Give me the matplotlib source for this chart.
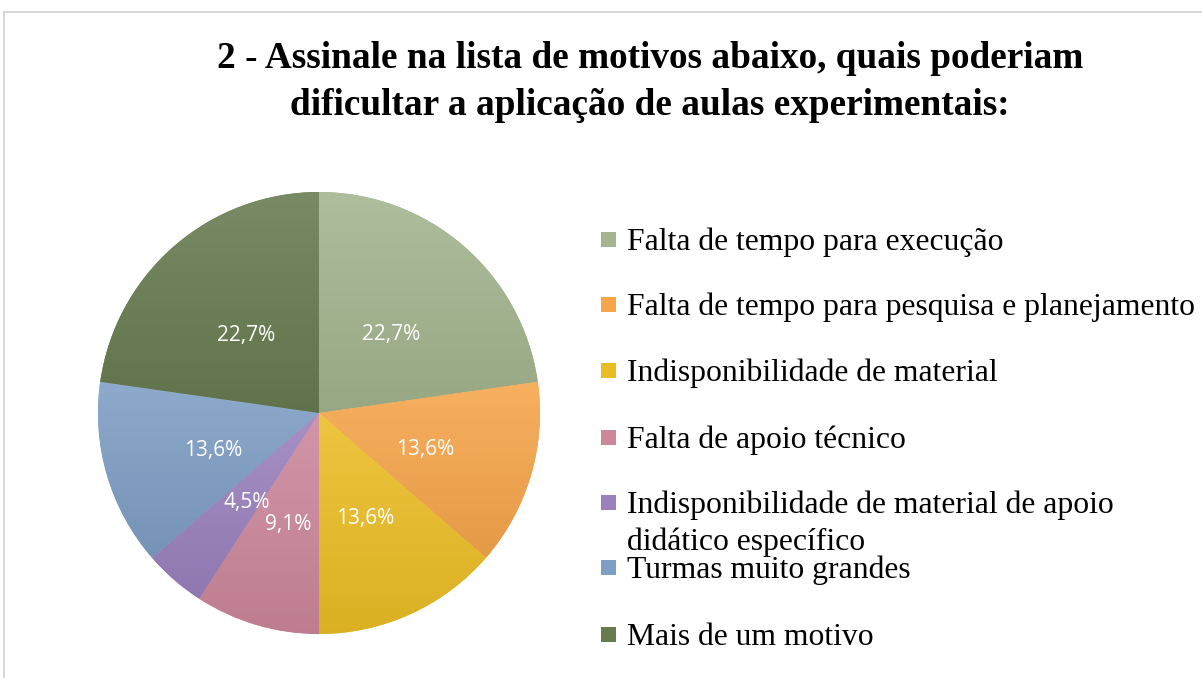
import numpy as np
import matplotlib
matplotlib.use("Agg")
import matplotlib.pyplot as plt
import matplotlib.colors as mcolors
from matplotlib.patches import Rectangle
from matplotlib.lines import Line2D

# dados
motivos = [
    "Falta de tempo para execução",
    "Falta de tempo para pesquisa e planejamento",
    "Indisponibilidade de material",
    "Falta de apoio técnico",
    "Indisponibilidade de material de apoio\ndidático específico",
    "Turmas muito grandes",
    "Mais de um motivo",
]
percentuais = [22.7, 13.6, 13.6, 9.1, 4.5, 13.6, 22.7]
rotulos = ["22,7%", "13,6%", "13,6%", "9,1%", "4,5%", "13,6%", "22,7%"]
cores = ["#a3b48e", "#f6a54b", "#ebbd25", "#cc879b", "#9a81bd", "#7e9ec5", "#677b4f"]

titulo = ["2 - Assinale na lista de motivos abaixo, quais poderiam",
          "dificultar a aplicação de aulas experimentais:"]

W, H = 1202, 678


def fx(px):
    return px / W


def fy(py):
    return 1 - py / H


def main():
    fig = plt.figure(figsize=(W / 100, H / 100), dpi=100)
    fig.patch.set_facecolor("white")

    # moldura cinza
    fig.add_artist(Line2D([fx(4), 1.0], [fy(12), fy(12)], color="#d9d9d9", lw=1.5))
    fig.add_artist(Line2D([fx(4), fx(4)], [fy(12), 0.0], color="#d9d9d9", lw=1.5))

    for linha, yb in zip(titulo, [68, 115]):
        fig.text(fx(650), fy(yb), linha, ha="center", va="baseline", fontsize=26.8,
                 fontweight="bold", family="Liberation Serif")

    cx, cy, r = 319, 413, 221
    ax = fig.add_axes([fx(cx - r), fy(cy + r), 2 * r / W, 2 * r / H])
    wedges, _ = ax.pie(percentuais, colors=cores, startangle=90, counterclock=False,
                       radius=1, wedgeprops=dict(linewidth=0))

    # leve degrade vertical em cada fatia
    for w, c in zip(wedges, cores):
        base = np.array(mcolors.to_rgb(c))
        topo = base + (1 - base) * 0.12
        fundo = base * 0.93
        t = np.linspace(0, 1, 100)[:, None]
        grad = topo[None, :] * (1 - t) + fundo[None, :] * t
        grad = np.repeat(grad[:, None, :], 2, axis=1)
        bb = w.get_path().get_extents()
        im = ax.imshow(grad, extent=(bb.x0, bb.x1, bb.y0, bb.y1), origin="upper",
                       aspect="auto", interpolation="bilinear", zorder=w.get_zorder())
        im.set_clip_path(w)

    # rotulos de porcentagem
    inicio = 90.0
    for p, lab in zip(percentuais, rotulos):
        meio = np.deg2rad(inicio - p * 3.6 / 2)
        inicio -= p * 3.6
        ax.text(0.5 * np.cos(meio), 0.5 * np.sin(meio) - 0.025, lab, ha="center",
                va="center", color="white", fontsize=15, family="Open Sans", zorder=5)

    ax.set_xlim(-1, 1)
    ax.set_ylim(-1, 1)
    ax.set_aspect("equal")
    ax.axis("off")

    # legenda
    bases = [250, 315, 381, 448, 513, 578, 645]
    for y, nome, c in zip(bases, motivos, cores):
        fig.add_artist(Rectangle((fx(601), fy(y - 3)), 15 / W, 15 / H, facecolor=c,
                                 edgecolor="none", transform=fig.transFigure))
        for i, parte in enumerate(nome.split("\n")):
            fig.text(fx(627), fy(y + 37 * i), parte, ha="left", va="baseline",
                     fontsize=22.8, family="Liberation Serif")

    fig.savefig("out.png", dpi=100)


if __name__ == "__main__":
    main()
